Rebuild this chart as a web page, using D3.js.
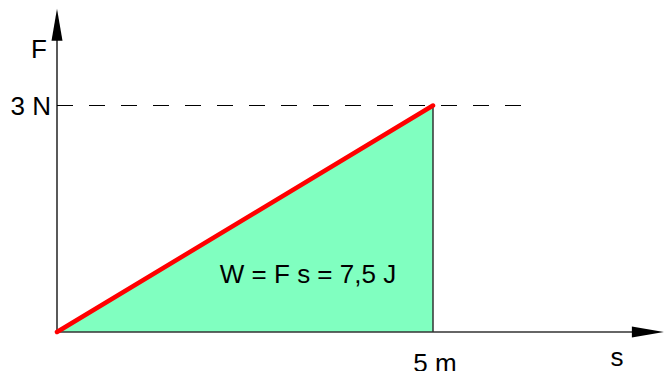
<!DOCTYPE html>
<html>
<head>
<meta charset="utf-8">
<script src="https://cdn.jsdelivr.net/npm/d3@7"></script>
<style>
html,body{margin:0;padding:0;background:#fff;}
svg{display:block;}
text{font-family:"Liberation Sans",Arial,sans-serif;font-size:26px;fill:#000;}
</style>
</head>
<body>
<svg id="c" width="664" height="371"></svg>
<script>
// Data
const sValues = [0, 5];          // displacement s (m)
const fValues = [0, 3];          // force F (N)
const xTickValues = [5];
const xTickLabels = ["5 m"];
const yTickValues = [3];
const yTickLabels = ["3 N"];
const workLabel = ["W = F s = 7,5 J"];
const axisLabels = ["s", "F"];

const svg = d3.select("#c");
const x = d3.scaleLinear().domain([0, 5]).range([57, 433]);
const y = d3.scaleLinear().domain([0, 3]).range([332, 105.5]);

const pts = sValues.map((s, i) => [s, fValues[i]]);

// filled area under line
const area = d3.area().x(d => x(d[0])).y0(y(0)).y1(d => y(d[1]));
svg.append("path").datum(pts).attr("d", area).attr("fill", "#80FFC0");

// vertical line at s = 5
svg.append("line")
  .attr("x1", x(xTickValues[0])).attr("x2", x(xTickValues[0]))
  .attr("y1", y(yTickValues[0])).attr("y2", y(0))
  .attr("stroke", "#333").attr("stroke-width", 1.5);

// dashed line at F = 3
svg.append("line")
  .attr("x1", x(0)).attr("x2", x(6.18))
  .attr("y1", y(yTickValues[0])).attr("y2", y(yTickValues[0]))
  .attr("stroke", "#000").attr("stroke-width", 1.2)
  .attr("stroke-dasharray", "16,16");

// axes
const xEnd = x(8.07), yEnd = y(4.28);
svg.append("line").attr("x1", x(0)).attr("x2", xEnd - 20).attr("y1", y(0)).attr("y2", y(0))
  .attr("stroke", "#333").attr("stroke-width", 1.3);
svg.append("path")
  .attr("d", `M${xEnd},${y(0)} L${xEnd - 32},${y(0) - 5.5} L${xEnd - 32},${y(0) + 5.5} Z`)
  .attr("fill", "#000");
svg.append("line").attr("x1", x(0)).attr("x2", x(0)).attr("y1", y(0)).attr("y2", yEnd + 20)
  .attr("stroke", "#000").attr("stroke-width", 1.3);
svg.append("path")
  .attr("d", `M${x(0)},${yEnd} L${x(0) - 5.5},${yEnd + 32} L${x(0) + 5.5},${yEnd + 32} Z`)
  .attr("fill", "#000");

// red line
const line = d3.line().x(d => x(d[0])).y(d => y(d[1]));
svg.append("path").datum(pts).attr("d", line)
  .attr("fill", "none").attr("stroke", "#FF0000").attr("stroke-width", 4.5)
  .attr("stroke-linecap", "round");

// tick labels
svg.selectAll(".xt").data(xTickValues).enter().append("text")
  .attr("x", d => x(d) + 2).attr("y", 372).attr("text-anchor", "middle")
  .text((d, i) => xTickLabels[i]);
svg.selectAll(".yt").data(yTickValues).enter().append("text")
  .attr("x", x(0) - 6).attr("y", d => y(d) + 9).attr("text-anchor", "end")
  .text((d, i) => yTickLabels[i]);

// axis labels
svg.append("text").attr("x", 617).attr("y", 366).attr("text-anchor", "middle").text(axisLabels[0]);
svg.append("text").attr("x", 47).attr("y", 58).attr("text-anchor", "end").text(axisLabels[1]);

// work label
svg.append("text").attr("x", 308).attr("y", 283).attr("text-anchor", "middle")
  .style("font-size", "26px").text(workLabel[0]);
</script>
</body>
</html>
